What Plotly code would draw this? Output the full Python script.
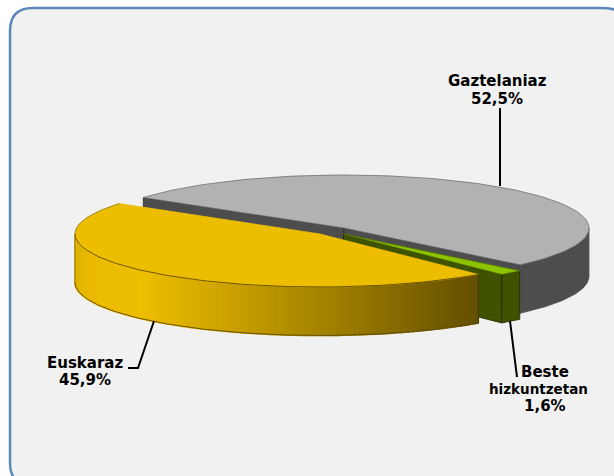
import math
import plotly.graph_objects as go

categories = ["Gaztelaniaz", "Beste hizkuntzetan", "Euskaraz"]
values = [52.5, 1.6, 45.9]
label_lines = ["Gaztelaniaz", "52,5%", "Beste", "hizkuntzetan", "1,6%", "Euskaraz", "45,9%"]

W, H = 614, 476
RX, RY, DEPTH = 245, 53, 48.5
START = 145.0
CENTERS = [(344, 228), (343.5, 234), (320, 234)]
TOP = ["#b2b2b2", "#8cc400", "#edbe00"]
SIDE = ["#4d4d4d", "#3f5200", "#edbe00"]
EDGE = "#2a2a2a"

spans = [v / sum(values) * 360 for v in values]
bounds = []
a0 = START
for s in spans:
    bounds.append((a0, a0 - s))
    a0 -= s

fig = go.Figure()


def pt(c, t, dz=0.0):
    r = math.radians(t)
    return c[0] + RX * math.cos(r), c[1] - RY * math.sin(r) + dz


def arc(c, t1, t2, dz=0.0, n=100):
    return [pt(c, t1 + (t2 - t1) * i / n, dz) for i in range(n + 1)]


def poly(points, fill, line=None, width=0.8):
    xs = [p[0] for p in points] + [points[0][0]]
    ys = [p[1] for p in points] + [points[0][1]]
    fig.add_trace(go.Scatter(x=xs, y=ys, mode="lines", fill="toself", fillcolor=fill,
                             line=dict(color=line or fill, width=width),
                             hoverinfo="skip", showlegend=False))


def stroke(points, color="#000000", width=2.0):
    fig.add_trace(go.Scatter(x=[p[0] for p in points], y=[p[1] for p in points], mode="lines",
                             line=dict(color=color, width=width), hoverinfo="skip", showlegend=False))


# grey slice
c = CENTERS[0]
t1, t2 = bounds[0]
left, right = pt(c, t1), pt(c, t2)
poly([left, c, (c[0], c[1] + DEPTH), (left[0], left[1] + DEPTH)], SIDE[0], EDGE)
poly([c, right, (right[0], right[1] + DEPTH), (c[0], c[1] + DEPTH)], SIDE[0], EDGE)
poly(arc(c, 0, t2) + arc(c, t2, 0, DEPTH), SIDE[0], "#555555")
poly([c] + arc(c, t1, t2), TOP[0], "#6e6e6e")

# green slice
c = CENTERS[1]
t1, t2 = bounds[1]
b = pt(c, t2)
poly([c, b, (b[0], b[1] + DEPTH), (c[0], c[1] + DEPTH)], SIDE[1], "#1f2a00")
poly(arc(c, t1, t2, 0, 10) + arc(c, t2, t1, DEPTH, 10), SIDE[1], "#1f2a00")
poly([c] + arc(c, t1, t2, 0, 10), TOP[1], "#5b7a00")

# yellow slice: side shaded by horizontal position
c = CENTERS[2]
t1, t2 = bounds[2]
side_from, side_to = -180.0, t1
n_bands = 130
x_lo, x_hi = pt(c, -180)[0], pt(c, t1)[0]


def shade(x):
    f = (x - x_lo) / (x_hi - x_lo)
    stops = [(0.0, (222, 178, 0)), (0.04, (234, 187, 0)), (0.17, (238, 190, 0)), (1.0, (100, 79, 0))]
    for (f0, c0), (f1, c1) in zip(stops, stops[1:]):
        if f <= f1:
            u = (f - f0) / (f1 - f0)
            return "rgb(%d,%d,%d)" % tuple(round(c0[k] + (c1[k] - c0[k]) * u) for k in range(3))
    return "rgb(100,79,0)"


for i in range(n_bands):
    ta = side_from + (side_to - side_from) * i / n_bands
    tb = side_from + (side_to - side_from) * (i + 1) / n_bands
    poly(arc(c, ta, tb, 0, 3) + arc(c, tb, ta, DEPTH, 3), shade(pt(c, (ta + tb) / 2)[0]), width=1.6)
stroke(arc(c, -180, t1, DEPTH), "#5f4c00", 0.9)
e = pt(c, t1)
l = pt(c, -180)
stroke([e, (e[0], e[1] + DEPTH)], "#3c3000", 0.9)
stroke([l, (l[0], l[1] + DEPTH)], "#8a7a40", 0.9)
poly([c] + arc(c, t1, t2), TOP[2], TOP[2])
stroke(arc(c, -180, t1), "#5f4c00", 0.9)
stroke(arc(c, t2, -180, 0, 20), "#8a7a40", 0.8)

# leader lines
stroke([(500, 108), (500, 186)])
stroke([(510, 321), (517, 377)])
stroke([(154, 321), (138, 368), (128, 368)])

label_pos = [(497, 81), (497, 99), (545, 372), (538, 389), (545, 406), (85, 363), (85, 380)]
label_sizes = [15, 15, 15, 13.5, 15, 15, 15]
annotations = [dict(x=x, y=y, text=t, showarrow=False, xref="x", yref="y", align="center",
                    font=dict(family="DejaVu Sans", size=s, color="#000000", weight="bold"))
               for (x, y), t, s in zip(label_pos, label_lines, label_sizes)]

panel = "M 33 8 L 600 8 Q 632 8 632 30 L 632 486 L 33 486 Q 10 486 10 463 L 10 31 Q 10 8 33 8 Z"
fig.update_layout(
    width=W, height=H, margin=dict(l=0, r=0, t=0, b=0),
    paper_bgcolor="#ffffff", plot_bgcolor="rgba(0,0,0,0)", showlegend=False,
    xaxis=dict(range=[0, W], visible=False, fixedrange=True),
    yaxis=dict(range=[H, 0], visible=False, fixedrange=True),
    shapes=[dict(type="path", path=panel, xref="x", yref="y", layer="below",
                 fillcolor="#f1f1f1", line=dict(color="#5b86bb", width=2.5))],
    annotations=annotations,
)
fig.write_html("out.html", config={"displayModeBar": False},
               post_script="document.body.style.margin='0';")
